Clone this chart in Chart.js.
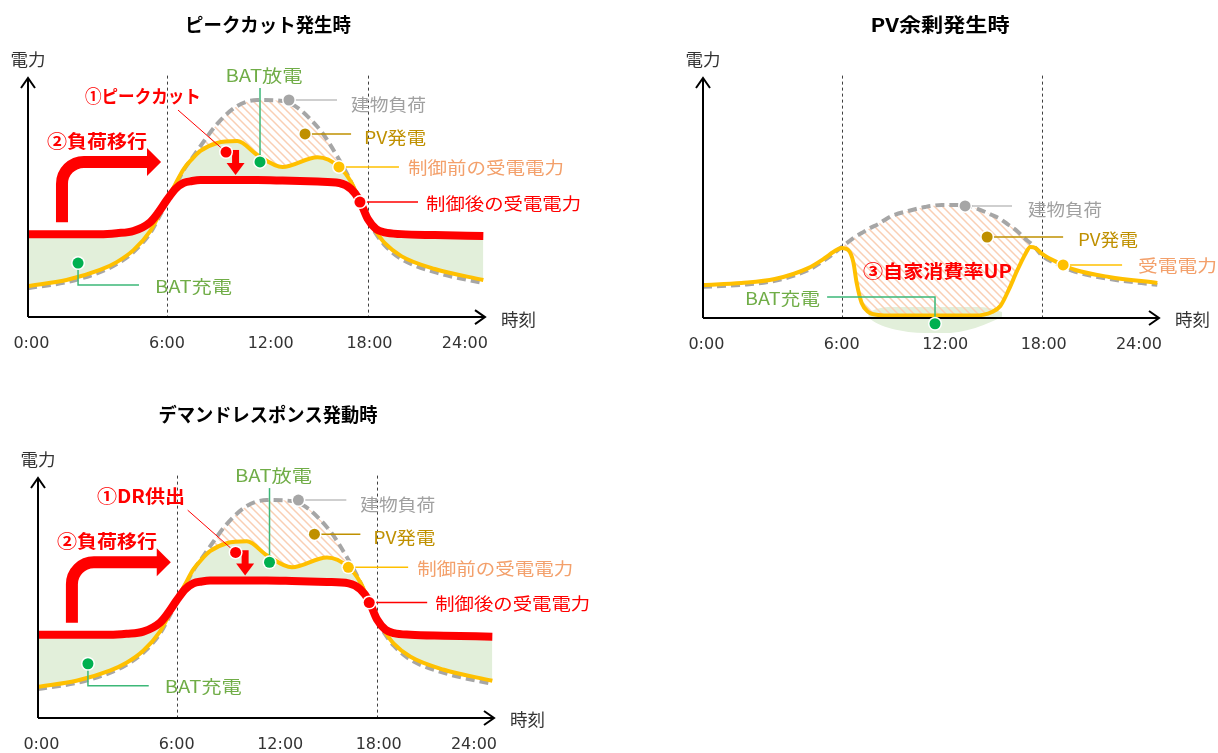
<!DOCTYPE html>
<html>
<head>
<meta charset="utf-8">
<script src="https://cdn.jsdelivr.net/npm/chart.js@4.4.1/dist/chart.umd.min.js"></script>
<style>
  html, body { margin: 0; padding: 0; background: #fff; }
  #wrap { position: relative; width: 1218px; height: 753px; overflow: hidden; }
  canvas { position: absolute; left: 0; top: 0; }
</style>
</head>
<body>
<div id="wrap">
  <canvas id="c1" width="1218" height="753"></canvas>
  <canvas id="c2" width="1218" height="753"></canvas>
  <canvas id="c3" width="1218" height="753"></canvas>
</div>
<script>
// time axis (hours) and its labels
const tickText = ['0:00', '6:00', '12:00', '18:00', '24:00'];
const tickAt = [-2.1, 6, 12.2, 18.1, 23.8];
const guideAt = [6, 18];

// ピークカット / デマンドレスポンス : same profile
const hoursA = [-2.3, 0, 2, 3, 4, 5, 5.5, 6, 6.5, 7, 7.5, 8, 9, 10.2, 11.4, 12.9, 15, 16.3, 17, 17.5, 18, 18.5, 19, 20, 22, 24.9];
const loadA = [12.1, 14.6, 18.8, 22.2, 27.2, 35.1, 41.4, 48.1, 54.8, 61.5, 66.5, 71.5, 80.8, 88.3, 90.8, 90.4, 79.5, 65.7, 56.5, 48.5, 40.6, 34.7, 30.1, 24.3, 18.8, 14.2];
const beforeA = [13.0, 15.5, 19.7, 23.0, 28.0, 36.0, 42.3, 49.0, 55.6, 61.9, 66.1, 69.5, 72.8, 73.6, 67.8, 62.8, 66.9, 62.8, 56.5, 49.0, 41.4, 35.6, 31.0, 25.5, 20.1, 15.5];
const afterA = [34.7, 34.7, 34.7, 35.1, 36.0, 39.7, 43.9, 49.0, 53.6, 56.1, 56.9, 57.3, 57.3, 57.3, 57.3, 57.1, 56.7, 56.1, 53.6, 49.0, 41.0, 36.8, 35.4, 34.7, 34.3, 33.9];

// PV余剰
const hoursB = [-2.3, 0, 2, 4, 5, 5.5, 6, 6.4, 6.7, 6.9, 7.2, 7.6, 8.2, 9, 10, 11, 12, 13, 14, 15, 15.5, 16, 16.5, 17, 17.3, 17.6, 18, 19, 20, 22, 24.9];
const loadB = [13.0, 13.8, 15.5, 20.0, 24.2, 26.7, 29.6, 31.7, 33.3, 34.2, 35.4, 37.1, 39.2, 42.5, 44.6, 46.25, 47.1, 47.1, 45.8, 42.9, 41.25, 38.75, 36.25, 32.9, 31.25, 29.2, 26.0, 22.1, 19.2, 16.3, 13.8];
const gridB = [13.75, 14.6, 16.25, 20.8, 25.0, 27.5, 29.2, 28.3, 23.3, 14.6, 6.25, 2.5, 1.25, 1.0, 1.0, 1.0, 1.0, 1.0, 1.0, 2.5, 5.0, 11.7, 19.6, 26.7, 29.6, 29.2, 26.7, 22.9, 20.0, 17.1, 14.6];
const batHoursB = [7.6, 8.2, 9, 10, 11, 12, 13, 14, 15, 15.6];
const batTopB = [2.5, 4.0, 4.6, 4.6, 4.6, 4.6, 4.6, 4.6, 4.0, 2.5];
const batBottomB = [0, -2.5, -4.5, -5.8, -6.3, -6.3, -5.8, -4.2, -1.5, 0.5];

const RED = '#ff0000', YEL = '#ffc000', GRAY = '#a6a6a6', GREENFILL = '#e2efda';
const PVC = '#bf9000', ORANGE = '#f3a06b', GTEXT = '#70ad47', GLINE = '#3cb878', GDOT = '#00b050';
const NONE = 'rgba(0,0,0,0)';
const JP = '"Noto Sans CJK JP", "Noto Sans", sans-serif';

const pts = (xs, ys) => xs.map((x, i) => ({ x, y: ys[i] }));

function makeHatch() {
  const c = document.createElement('canvas');
  c.width = 8; c.height = 8;
  const g = c.getContext('2d');
  g.strokeStyle = '#f9cfb4';
  g.lineWidth = 1.5;
  g.beginPath();
  g.moveTo(0, 0); g.lineTo(8, 8);
  g.moveTo(-1, 7); g.lineTo(1, 9);
  g.moveTo(7, -1); g.lineTo(9, 1);
  g.stroke();
  return g.createPattern(c, 'repeat');
}
const HATCH = makeHatch();

const line = (label, data, color, width, extra) => Object.assign({
  label, data, borderColor: color, borderWidth: width,
  pointRadius: 0, pointHoverRadius: 0, cubicInterpolationMode: 'monotone', fill: false
}, extra);

// leader lines / dots / labels shared by the two load-shift panels
const notesA = [
  { dot: [13.29, 90.8], to: [[16.16, 90.8]], line: '#bfbfbf', fill: GRAY },
  { dot: [14.25, 76.6], to: [[17.0, 76.6]], line: PVC, fill: PVC },
  { dot: [16.28, 62.8], to: [[19.86, 62.8]], line: YEL, fill: YEL },
  { dot: [17.53, 48.1], to: [[21.0, 48.1]], line: RED, fill: RED },
  { dot: [11.56, 64.9], to: [[11.56, 95.8]], line: GLINE, fill: GDOT },
  { dot: [0.69, 22.6], to: [[0.69, 13.4], [4.33, 13.4]], line: GLINE, fill: GDOT },
  { dot: [9.53, 69.0], to: [[6.66, 86.6]], line: RED, fill: RED, thin: true }
];
const labelsA = [
  { text: '建物負荷', at: [17.0, 89.5], w: 75, color: '#a0a0a0' },
  { text: 'PV発電', at: [17.77, 75.7], w: 62, color: PVC },
  { text: '制御前の受電電力', at: [20.4, 62.8], w: 156, color: ORANGE },
  { text: '制御後の受電電力', at: [21.48, 48.1], w: 155, color: RED },
  { text: 'BAT放電', at: [11.8, 101.3], w: 77, color: GTEXT, align: 'center' },
  { text: 'BAT充電', at: [5.29, 13.4], w: 77, color: GTEXT },
  { text: '②負荷移行', at: [-1.16, 74.1], w: 100, color: RED, bold: true }
];

const panels = {
  c1: {
    pad: { left: 28, right: 733, top: 78, bottom: 412 },
    title: { text: 'ピークカット発生時', x: 268, y: 25, w: 166 },
    notes: notesA,
    labels: labelsA.concat([{ text: '①ピークカット', at: [1.1, 92.9], w: 116, color: RED, bold: true }]),
    arrow: { shaftX: -0.27, bottom: 39.7, level: 64.9, headStart: 4.81, tip: 5.65 },
    down: { x: 10.1, top: 69.9, tip: 59.4 }
  },
  c2: {
    pad: { left: 703, right: 59, top: 78, bottom: 411 },
    title: { text: 'PV余剰発生時', x: 940, y: 25, w: 139 },
    notes: [
      { dot: [13.39, 46.7], to: [[16.2, 46.7]], line: '#bfbfbf', fill: GRAY },
      { dot: [14.71, 33.75], to: [[19.26, 33.75]], line: PVC, fill: PVC },
      { dot: [19.26, 22.1], to: [[22.79, 22.1]], line: YEL, fill: YEL },
      { dot: [11.59, -2.4], to: [[11.59, 8.75], [5.13, 8.75]], line: GLINE, fill: GDOT }
    ],
    labels: [
      { text: '建物負荷', at: [17.16, 45.4], w: 74, color: '#a0a0a0' },
      { text: 'PV発電', at: [20.15, 33.3], w: 60, color: PVC },
      { text: '受電電力', at: [23.75, 22.1], w: 79, color: ORANGE },
      { text: 'BAT充電', at: [4.7, 8.5], w: 75, color: GTEXT, align: 'right' },
      { text: '③自家消費率UP', at: [7.28, 20], w: 149, color: RED, bold: true }
    ]
  },
  c3: {
    pad: { left: 38, right: 724, top: 478, bottom: 11 },
    title: { text: 'デマンドレスポンス発動時', x: 268, y: 415, w: 219 },
    notes: notesA,
    labels: labelsA.concat([{ text: '①DR供出', at: [1.23, 92.9], w: 88, color: RED, bold: true }]),
    arrow: { shaftX: -0.27, bottom: 39.7, level: 64.9, headStart: 4.81, tip: 5.65 },
    down: { x: 10.1, top: 69.9, tip: 59.4 }
  }
};

// draw text so that it spans w pixels, stretching or squeezing it horizontally
function fitText(ctx, text, x, y, w, font, color, align) {
  ctx.save();
  ctx.font = font;
  ctx.fillStyle = color;
  ctx.textBaseline = 'middle';
  ctx.textAlign = 'left';
  const m = ctx.measureText(text).width;
  const sx = Math.max(0.8, Math.min(1.3, w / m));
  const left = align === 'center' ? x - m * sx / 2 : align === 'right' ? x - m * sx : x;
  ctx.translate(left, y);
  ctx.scale(sx, 1);
  ctx.fillText(text, 0, 0);
  ctx.restore();
}

const sketch = {
  id: 'sketch',
  beforeDraw(chart) {
    const { ctx } = chart, X = chart.scales.x, Y = chart.scales.y;
    ctx.save();
    ctx.strokeStyle = '#404040';
    ctx.lineWidth = 1;
    ctx.setLineDash([3, 3]);
    guideAt.forEach(h => {
      const x = Math.round(X.getPixelForValue(h)) + 0.5;
      ctx.beginPath();
      ctx.moveTo(x, Y.getPixelForValue(101));
      ctx.lineTo(x, Y.getPixelForValue(0));
      ctx.stroke();
    });
    ctx.restore();
  },
  afterDatasetsDraw(chart) {
    const p = panels[chart.canvas.id];
    const { ctx } = chart, X = chart.scales.x, Y = chart.scales.y;
    const px = h => X.getPixelForValue(h), py = v => Y.getPixelForValue(v);
    const ox = chart.chartArea.left, oy = py(0), tx = chart.chartArea.right, ty = py(100);

    ctx.save();
    // axes with open arrow heads
    ctx.strokeStyle = '#000';
    ctx.lineWidth = 2;
    ctx.setLineDash([]);
    ctx.beginPath();
    ctx.moveTo(ox, oy); ctx.lineTo(ox, ty);
    ctx.moveTo(ox - 7, ty + 10); ctx.lineTo(ox, ty); ctx.lineTo(ox + 7, ty + 10);
    ctx.moveTo(ox, oy); ctx.lineTo(tx, oy);
    ctx.moveTo(tx - 10, oy - 7); ctx.lineTo(tx, oy); ctx.lineTo(tx - 10, oy + 7);
    ctx.stroke();

    fitText(ctx, '電力', ox, ty - 18, 35, '17px ' + JP, '#333', 'center');
    fitText(ctx, '時刻', tx + 16, oy + 2, 35, '17px ' + JP, '#333');
    ctx.font = '16px "DejaVu Sans", sans-serif';
    ctx.fillStyle = '#333';
    ctx.textAlign = 'center';
    ctx.textBaseline = 'middle';
    tickText.forEach((t, i) => ctx.fillText(t, px(tickAt[i]), oy + 27));

    fitText(ctx, p.title.text, p.title.x, p.title.y, p.title.w, 'bold 19px ' + JP, '#000', 'center');

    // 負荷移行 arrow
    if (p.arrow) {
      const a = p.arrow;
      const xs = px(a.shaftX), yb = py(a.bottom), yh = py(a.level), xh = px(a.headStart), xt = px(a.tip);
      const r = 22;
      ctx.strokeStyle = RED;
      ctx.lineWidth = 12;
      ctx.lineCap = 'butt';
      ctx.beginPath();
      ctx.moveTo(xs, yb);
      ctx.lineTo(xs, yh + r);
      ctx.arcTo(xs, yh, xs + r, yh, r);
      ctx.lineTo(xh + 1, yh);
      ctx.stroke();
      ctx.fillStyle = RED;
      ctx.beginPath();
      ctx.moveTo(xh, yh - 14); ctx.lineTo(xt, yh); ctx.lineTo(xh, yh + 14);
      ctx.closePath();
      ctx.fill();
    }
    // peak cut arrow
    if (p.down) {
      const d = p.down;
      const x = px(d.x), yt0 = py(d.top), yt1 = py(d.tip);
      ctx.fillStyle = RED;
      ctx.fillRect(x - 3.5, yt0, 7, yt1 - yt0 - 11);
      ctx.beginPath();
      ctx.moveTo(x - 9, yt1 - 12); ctx.lineTo(x + 9, yt1 - 12); ctx.lineTo(x, yt1);
      ctx.closePath();
      ctx.fill();
    }

    // leader lines and dots
    p.notes.forEach(n => {
      const path = [n.dot].concat(n.to).map(([h, v]) => [px(h), py(v)]);
      ctx.strokeStyle = n.line;
      ctx.lineWidth = n.thin ? 1 : 1.5;
      ctx.beginPath();
      path.forEach(([x, y], i) => i ? ctx.lineTo(x, y) : ctx.moveTo(x, y));
      ctx.stroke();
    });
    p.notes.forEach(n => {
      const x = px(n.dot[0]), y = py(n.dot[1]);
      ctx.fillStyle = '#fff';
      ctx.beginPath(); ctx.arc(x, y, 7, 0, Math.PI * 2); ctx.fill();
      ctx.fillStyle = n.fill;
      ctx.beginPath(); ctx.arc(x, y, 5.5, 0, Math.PI * 2); ctx.fill();
    });

    p.labels.forEach(l => {
      const font = (l.bold ? 'bold 18px ' : '17px ') + JP;
      fitText(ctx, l.text, px(l.at[0]), py(l.at[1]) + 1, l.w, font, l.color, l.align);
    });
    ctx.restore();
  }
};

function baseOptions(pad) {
  return {
    responsive: false,
    animation: false,
    events: [],
    layout: { padding: pad },
    scales: {
      x: { type: 'linear', min: -2.3, max: 25, display: false },
      y: { type: 'linear', min: -10, max: 100, display: false }
    },
    plugins: {
      legend: { display: false },
      tooltip: { enabled: false },
      filler: { propagate: false, drawTime: 'beforeDatasetsDraw' }
    }
  };
}

function shiftChart(id) {
  return new Chart(document.getElementById(id), {
    type: 'line',
    data: {
      datasets: [
        line('制御後の受電電力', pts(hoursA, afterA), RED, 8),
        line('制御前の受電電力', pts(hoursA, beforeA), YEL, 4,
          { fill: { target: 0, above: GREENFILL, below: GREENFILL } }),
        line('建物負荷', pts(hoursA, loadA), GRAY, 4,
          { borderDash: [9, 5], fill: { target: 1, above: HATCH, below: NONE } })
      ]
    },
    options: baseOptions(panels[id].pad),
    plugins: [sketch]
  });
}

shiftChart('c1');
shiftChart('c3');

new Chart(document.getElementById('c2'), {
  type: 'line',
  data: {
    datasets: [
      line('受電電力', pts(hoursB, gridB), YEL, 4),
      line('建物負荷', pts(hoursB, loadB), GRAY, 4,
        { borderDash: [9, 5], fill: { target: 0, above: HATCH, below: NONE } }),
      line('BAT充電', pts(batHoursB, batTopB), NONE, 1,
        { fill: { target: 3, above: GREENFILL, below: GREENFILL } }),
      line('BAT充電下限', pts(batHoursB, batBottomB), NONE, 1)
    ]
  },
  options: baseOptions(panels.c2.pad),
  plugins: [sketch]
});
</script>
</body>
</html>
